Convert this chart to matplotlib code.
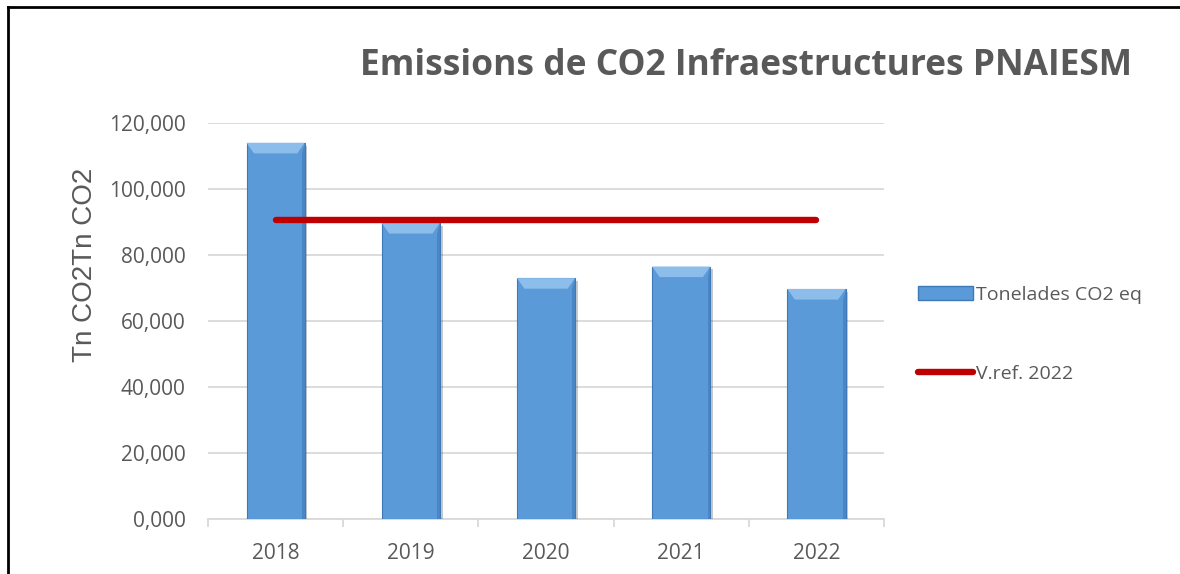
import matplotlib.pyplot as plt
import matplotlib.patheffects as pe
from matplotlib.patches import Polygon, Patch
from matplotlib.lines import Line2D
import numpy as np

# Dades
years = ["2018", "2019", "2020", "2021", "2022"]
tonnes = [114000, 89700, 73000, 76500, 69700]
ref_2022 = 90600
yticks = [0, 20000, 40000, 60000, 80000, 100000, 120000]

GREY = "#595959"
BLUE = "#5b9ad9"
RED = "#c00000"

plt.rcParams["font.family"] = ["Open Sans", "DejaVu Sans"]

fig = plt.figure(figsize=(11.8, 5.74), dpi=100)
ax = fig.add_axes([0.1763, 0.0958, 0.5729, 0.6899])

x = np.arange(len(years))
width = 0.43
bars = ax.bar(x, tonnes, width=width, color=BLUE, edgecolor="#3f79b5",
              linewidth=0.8, zorder=3)
for b in bars:
    b.set_path_effects([pe.SimplePatchShadow(offset=(2, -2), alpha=0.25),
                        pe.Normal()])

# bisell superior de cada barra
dx = 0.055
dy = 3200
for b in bars:
    x0 = b.get_x()
    x1 = x0 + b.get_width()
    top = b.get_height()
    bevel = Polygon([(x0, top), (x1, top), (x1 - dx, top - dy), (x0 + dx, top - dy)],
                    closed=True, facecolor="#8cbdeb", edgecolor="none", zorder=4)
    ax.add_patch(bevel)
    side = Polygon([(x1, top), (x1, 0), (x1 - 0.02, 0), (x1 - 0.02, top - dy)],
                   closed=True, facecolor="#4a86c5", edgecolor="none", zorder=4)
    ax.add_patch(side)

ax.plot([x[0], x[-1]], [ref_2022, ref_2022], color=RED, linewidth=4.6,
        solid_capstyle="round", zorder=5)

ax.set_xlim(-0.5, len(years) - 0.5)
ax.set_ylim(0, 120000)
ax.set_yticks(yticks)
ax.set_yticklabels([f"{v / 1000:.3f}".replace(".", ",") for v in yticks])
ax.set_xticks(x)
ax.set_xticklabels(years)
ax.set_xticks(np.arange(-0.5, len(years)), minor=True)

ax.grid(axis="y", color="#d9d9d9", linewidth=1.3, zorder=0)
for s in ["top", "right", "left"]:
    ax.spines[s].set_visible(False)
ax.spines["bottom"].set_color("#d9d9d9")
ax.spines["bottom"].set_linewidth(1.3)
ax.tick_params(axis="y", length=0, pad=16, labelsize=15, labelcolor=GREY)
ax.tick_params(axis="x", which="major", length=0, pad=17, labelsize=15, labelcolor=GREY)
ax.tick_params(axis="x", which="minor", length=6, width=1.3, color="#d9d9d9")

fig.text(85 / 1180, 1 - 265 / 574, "Tn CO2Tn CO2", rotation=90, ha="center",
         va="center", fontsize=20, color=GREY,
         fontfamily=["Liberation Sans", "DejaVu Sans"])

fig.text(0.6325, 1 - 66 / 574, "Emissions de CO2 Infraestructures PNAIESM", ha="center",
         va="center", fontsize=25.5, fontweight="bold", color=GREY)

handles = [Patch(facecolor=BLUE, edgecolor="#3f79b5"),
           Line2D([0], [0], color=RED, linewidth=4.6, solid_capstyle="round")]
fig.legend(handles, ["Tonelades CO2 eq", "V.ref. 2022"], loc="upper left",
           bbox_to_anchor=(918 / 1180, 1 - 286 / 574), frameon=False, fontsize=14,
           labelcolor=GREY, handlelength=2.85, handletextpad=0.15,
           labelspacing=3.15, borderaxespad=0, borderpad=0)

# marc exterior
fig.add_artist(Line2D([8 / 1180, 1], [1 - 7 / 574, 1 - 7 / 574], color="black",
                      linewidth=2, transform=fig.transFigure))
fig.add_artist(Line2D([8 / 1180, 8 / 1180], [0, 1 - 7 / 574], color="black",
                      linewidth=2, transform=fig.transFigure))

fig.savefig("out.png", dpi=100)
